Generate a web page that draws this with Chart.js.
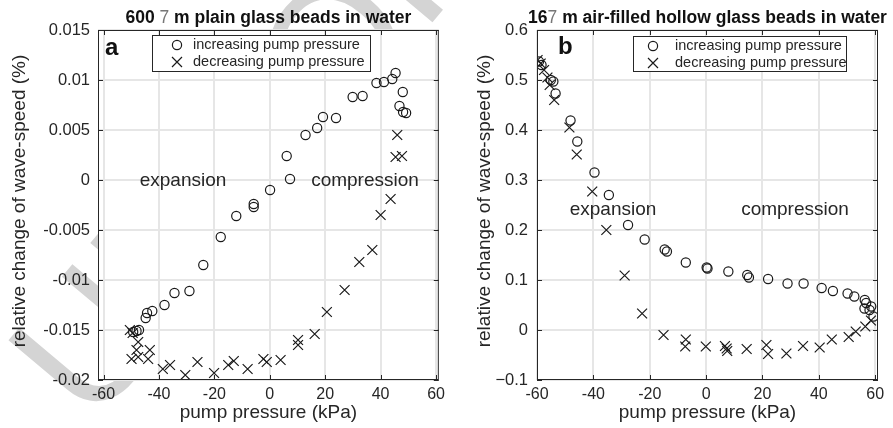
<!DOCTYPE html>
<html>
<head>
<meta charset="utf-8">
<title>wave-speed vs pump pressure</title>
<script src="https://cdn.jsdelivr.net/npm/chart.js@4.4.0/dist/chart.umd.min.js"></script>
<style>
  html, body { margin: 0; padding: 0; background: #fff; }
  #wrap { position: relative; width: 893px; height: 428px; overflow: hidden; }
  #stamp, .panel { position: absolute; top: 0; }
  #stamp { left: 0; }
  #panelA { left: 0; }
  #panelB { left: 445px; }
</style>
</head>
<body>
<div id="wrap">
  <canvas id="stamp" width="893" height="428"></canvas>
  <canvas id="panelA" class="panel" width="450" height="428"></canvas>
  <canvas id="panelB" class="panel" width="448" height="428"></canvas>
</div>
<script>
// --- panel a: 600 um plain glass beads ---
const aIncP = [45.4, 44.2, 41.2, 38.5, 48.0, 46.8, 48.1, 49.2, 33.5, 29.9, 23.9, 19.2, 17.1, 12.9,
  6.1, 7.3, 0.1, -5.8, -5.8, -12.1, -17.7, -24.0, -29.0, -34.4, -38.0, -42.4, -44.3, -44.8, -48.1, -49.3, -47.2]
const aIncV = [0.0107, 0.0101, 0.0098, 0.0097, 0.0088, 0.0074, 0.0068, 0.0067, 0.0084, 0.0083, 0.0062, 0.0063, 0.0052, 0.0045,
  0.0024, 0.0001, -0.0010, -0.0024, -0.0027, -0.0036, -0.0057, -0.0085, -0.0111, -0.0113, -0.0125, -0.0131, -0.0133, -0.0138, -0.0151, -0.0152, -0.0150]
const aDecP = [46.0, 45.4, 47.7, 43.6, 40.0, 37.0, 32.3, 27.0, 20.6, 16.2, 10.2, 10.2, 3.9, -1.1, -2.3, -8.0,
  -13.0, -15.0, -20.1, -26.1, -30.5, -36.0, -38.6, -43.3, -43.9, -47.5, -48.1, -47.5, -49.9, -50.5, -49.5]
const aDecV = [0.0045, 0.0023, 0.0024, -0.0019, -0.0035, -0.0070, -0.0082, -0.0110, -0.0132, -0.0154, -0.0160, -0.0165, -0.0180, -0.0182, -0.0179, -0.0189,
  -0.0181, -0.0185, -0.0193, -0.0182, -0.0195, -0.0185, -0.0189, -0.0170, -0.0179, -0.0162, -0.0170, -0.0177, -0.0179, -0.0150, -0.0153]

// --- panel b: 16 um air-filled hollow glass beads ---
const bIncP = [-59.3, -58.4, -55.1, -54.2, -53.4, -48.1, -45.7, -39.6, -34.5, -27.7, -21.8, -14.7, -13.9, -7.2, 0.2, 0.5,
  7.9, 14.6, 15.2, 22.0, 28.9, 34.6, 41.0, 45.0, 50.2, 52.6, 56.3, 56.8, 56.2, 58.0, 59.4, 58.6]
const bIncV = [0.537, 0.530, 0.500, 0.497, 0.473, 0.419, 0.377, 0.315, 0.270, 0.210, 0.181, 0.161, 0.157, 0.135, 0.125, 0.123,
  0.117, 0.110, 0.105, 0.102, 0.093, 0.093, 0.084, 0.078, 0.073, 0.067, 0.060, 0.054, 0.043, 0.040, 0.027, 0.047]
const bDecP = [-59.8, -58.7, -57.5, -56.3, -55.5, -53.9, -48.5, -45.9, -40.4, -35.4, -28.9, -22.7, -15.1, -7.2, -7.4,
  -0.1, 6.7, 7.3, 7.5, 14.4, 21.4, 22.0, 28.5, 34.4, 40.3, 44.6, 50.6, 53.1, 56.5, 58.5]
const bDecV = [0.540, 0.533, 0.520, 0.505, 0.490, 0.460, 0.405, 0.351, 0.277, 0.200, 0.109, 0.033, -0.010, -0.019, -0.033,
  -0.033, -0.032, -0.037, -0.042, -0.038, -0.030, -0.048, -0.047, -0.032, -0.035, -0.019, -0.014, -0.003, 0.007, 0.019]

const xTicks = [-60, -40, -20, 0, 20, 40, 60]
const xTickLabels = ['-60', '-40', '-20', '0', '20', '40', '60']
const aYTicks = [-0.02, -0.015, -0.01, -0.005, 0, 0.005, 0.01, 0.015]
const aYTickLabels = ['-0.02', '-0.015', '-0.01', '-0.005', '0', '0.005', '0.01', '0.015']
const bYTicks = [-0.1, 0, 0.1, 0.2, 0.3, 0.4, 0.5, 0.6]
const bYTickLabels = ['\u22120.1', '0', '0.1', '0.2', '0.3', '0.4', '0.5', '0.6']
const seriesNames = ['increasing pump pressure', 'decreasing pump pressure']

const FONT = "'Liberation Sans', Arial, Helvetica, sans-serif"
const INK = '#262626'

const toPoints = (xs, ys) => xs.map((x, i) => ({ x: x, y: ys[i] }))

// "UNCORRECTED PROOF" stamp sitting behind both panels
;(function () {
  const ctx = document.getElementById('stamp').getContext('2d')
  ctx.save()
  ctx.translate(92, 428)
  ctx.rotate(-50 * Math.PI / 180)
  ctx.font = '175px ' + FONT
  ctx.fillStyle = '#d4d4d4'
  ctx.fillText('UNCORRECTED PROOF', 0, 0)
  ctx.restore()
})()

function drawCircle(ctx, x, y) {
  ctx.beginPath()
  ctx.arc(x, y, 4.6, 0, Math.PI * 2)
  ctx.stroke()
}

function drawCross(ctx, x, y) {
  const d = 5
  ctx.beginPath()
  ctx.moveTo(x - d, y - d); ctx.lineTo(x + d, y + d)
  ctx.moveTo(x - d, y + d); ctx.lineTo(x + d, y - d)
  ctx.stroke()
}

// box, inward ticks and all the text around the axes
const decor = {
  id: 'decor',
  beforeDraw(chart) {
    const { ctx, chartArea: a } = chart
    ctx.save()
    ctx.fillStyle = '#fff'
    ctx.fillRect(a.left, a.top, a.right - a.left, a.bottom - a.top)
    ctx.restore()
  },
  afterDraw(chart, args, o) {
    const { ctx, chartArea: a } = chart
    const xs = chart.scales.x, ys = chart.scales.y
    ctx.save()

    // frame with ticks on all four sides
    ctx.strokeStyle = INK
    ctx.lineWidth = 1
    ctx.strokeRect(a.left + 0.5, a.top + 0.5, a.right - a.left - 1, a.bottom - a.top - 1)
    ctx.beginPath()
    xs.ticks.forEach(t => {
      const px = Math.round(xs.getPixelForValue(t.value)) + 0.5
      ctx.moveTo(px, a.bottom); ctx.lineTo(px, a.bottom - 5)
      ctx.moveTo(px, a.top); ctx.lineTo(px, a.top + 5)
    })
    ys.ticks.forEach(t => {
      const py = Math.round(ys.getPixelForValue(t.value)) + 0.5
      ctx.moveTo(a.left, py); ctx.lineTo(a.left + 5, py)
      ctx.moveTo(a.right, py); ctx.lineTo(a.right - 5, py)
    })
    ctx.stroke()

    // title: bold text with a thin glyph where the micro sign was
    ctx.textBaseline = 'alphabetic'
    ctx.textAlign = 'left'
    const cx = (a.left + a.right) / 2
    let w = 0
    o.title.forEach(p => { ctx.font = p[1]; w += ctx.measureText(p[0]).width })
    let tx = cx - w / 2
    o.title.forEach(p => {
      ctx.font = p[1]
      ctx.fillStyle = p[2]
      ctx.fillText(p[0], tx, 23)
      tx += ctx.measureText(p[0]).width
    })

    // axis titles
    ctx.fillStyle = INK
    ctx.font = '19px ' + FONT
    ctx.textAlign = 'center'
    ctx.textBaseline = 'middle'
    ctx.fillText('pump pressure (kPa)', cx, 413)
    ctx.save()
    ctx.translate(o.yTitleX, (a.top + a.bottom) / 2 - 4)
    ctx.rotate(-Math.PI / 2)
    ctx.fillText('relative change of wave-speed (%)', 0, 0)
    ctx.restore()

    // panel letter
    ctx.font = 'bold 24px ' + FONT
    ctx.textAlign = 'left'
    ctx.textBaseline = 'alphabetic'
    ctx.fillStyle = '#111'
    ctx.fillText(o.letter[0], o.letter[1], o.letter[2])

    // region labels
    ctx.font = '19px ' + FONT
    ctx.textAlign = 'center'
    ctx.textBaseline = 'middle'
    ctx.fillStyle = INK
    o.notes.forEach(n => ctx.fillText(n[0], n[1], n[2]))

    // legend
    const L = o.legend
    ctx.fillStyle = '#fff'
    ctx.fillRect(L.x, L.y, L.w, L.h)
    ctx.strokeStyle = INK
    ctx.lineWidth = 1
    ctx.strokeRect(L.x + 0.5, L.y + 0.5, L.w, L.h)
    ctx.strokeStyle = '#1a1a1a'
    ctx.lineWidth = 1.2
    drawCircle(ctx, L.mx, L.y + 10)
    drawCross(ctx, L.mx, L.y + 27)
    ctx.font = '14.5px ' + FONT
    ctx.textAlign = 'left'
    ctx.fillStyle = INK
    ctx.fillText(seriesNames[0], L.tx, L.y + 10)
    ctx.fillText(seriesNames[1], L.tx, L.y + 27)

    ctx.restore()
  }
}

function makePanel(id, p) {
  return new Chart(document.getElementById(id), {
    type: 'scatter',
    data: {
      datasets: [{
        label: seriesNames[0],
        data: toPoints(p.incP, p.incV),
        pointStyle: 'circle',
        pointRadius: 4.6,
        borderWidth: 1.2,
        borderColor: '#1a1a1a',
        backgroundColor: 'rgba(0,0,0,0)'
      }, {
        label: seriesNames[1],
        data: toPoints(p.decP, p.decV),
        pointStyle: 'crossRot',
        pointRadius: 7,
        borderWidth: 1.2,
        borderColor: '#1a1a1a',
        backgroundColor: 'rgba(0,0,0,0)'
      }]
    },
    options: {
      responsive: false,
      animation: false,
      events: [],
      layout: { padding: { top: 30, right: p.padRight, left: 0, bottom: 0 } },
      plugins: {
        legend: { display: false },
        tooltip: { enabled: false },
        decor: p.decor
      },
      scales: {
        x: {
          type: 'linear',
          min: p.xMin,
          max: p.xMax,
          afterBuildTicks: s => { s.ticks = xTicks.map(v => ({ value: v })) },
          afterFit: s => { s.height = 48 },
          ticks: {
            autoSkip: false,
            maxRotation: 0,
            padding: 5,
            color: INK,
            font: { family: FONT, size: 16 },
            callback: v => xTickLabels[xTicks.indexOf(v)]
          },
          grid: { color: '#e6e6e6', lineWidth: 2, drawTicks: false },
          border: { display: false }
        },
        y: {
          type: 'linear',
          min: p.yTicks[0],
          max: p.yTicks[p.yTicks.length - 1],
          afterBuildTicks: s => { s.ticks = p.yTicks.map(v => ({ value: v })) },
          afterFit: s => { s.width = p.yWidth },
          ticks: {
            autoSkip: false,
            padding: p.yPad,
            color: INK,
            font: { family: FONT, size: 16.5 },
            callback: v => p.yLabels[p.yTicks.indexOf(v)]
          },
          grid: { color: '#e6e6e6', lineWidth: 2, drawTicks: false },
          border: { display: false }
        }
      }
    },
    plugins: [decor]
  })
}

const TITLE_BOLD = 'bold 17.5px ' + FONT
const TITLE_THIN = '17.5px ' + FONT

makePanel('panelA', {
  incP: aIncP, incV: aIncV, decP: aDecP, decV: aDecV,
  xMin: -62, xMax: 61,
  yTicks: aYTicks, yLabels: aYTickLabels,
  yWidth: 98, yPad: 8, padRight: 5,
  decor: {
    title: [['600 ', TITLE_BOLD, '#111'], ['7', TITLE_THIN, '#777'], [' m plain glass beads in water', TITLE_BOLD, '#111']],
    yTitleX: 20,
    letter: ['a', 105, 55],
    notes: [['expansion', 183, 181], ['compression', 365, 181]],
    legend: { x: 152, y: 35, w: 218, h: 36, mx: 177, tx: 193 }
  }
})

makePanel('panelB', {
  incP: bIncP, incV: bIncV, decP: bDecP, decV: bDecV,
  xMin: -60, xMax: 61,
  yTicks: bYTicks, yLabels: bYTickLabels,
  yWidth: 92, yPad: 9, padRight: 15,
  decor: {
    title: [['16', TITLE_BOLD, '#111'], ['7', TITLE_THIN, '#777'], [' m air-filled hollow glass beads in water', TITLE_BOLD, '#111']],
    yTitleX: 40,
    letter: ['b', 113, 54],
    notes: [['expansion', 168, 210], ['compression', 350, 210]],
    legend: { x: 188, y: 36, w: 213, h: 35, mx: 208, tx: 230 }
  }
})
</script>
</body>
</html>
